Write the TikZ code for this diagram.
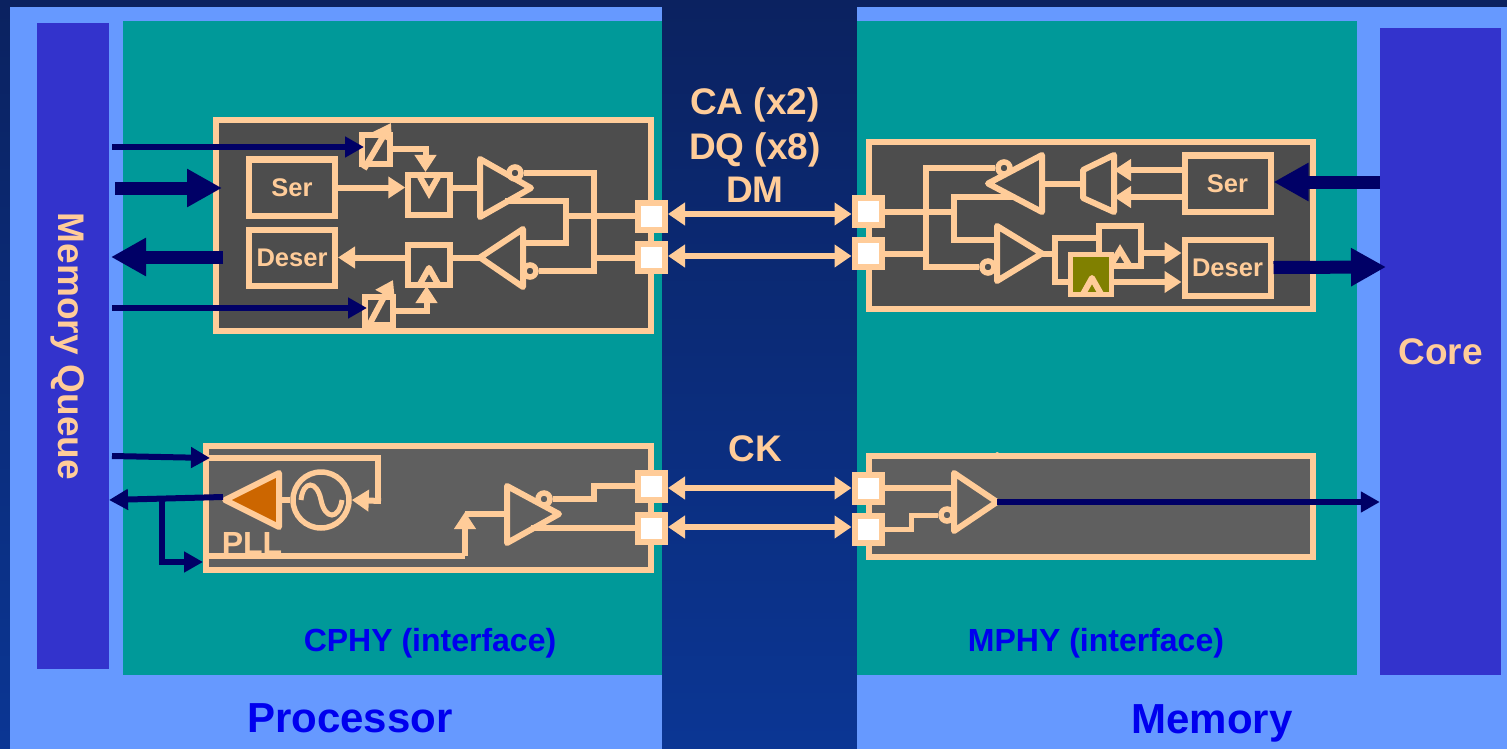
\documentclass[tikz,border=0pt]{standalone}
\usepackage{fontspec}
\setmainfont{Liberation Sans}
\usepackage{tikz}
\usetikzlibrary{arrows.meta}
\definecolor{peach}{HTML}{FFCC99}
\definecolor{skyback}{HTML}{6699FF}
\definecolor{tealback}{HTML}{009999}
\definecolor{purpleblock}{HTML}{3333CC}
\definecolor{navyline}{HTML}{000066}
\definecolor{navytop}{HTML}{0B2260}
\definecolor{navybot}{HTML}{0B3694}
\definecolor{boxdark}{HTML}{4D4D4D}
\definecolor{boxgrey}{HTML}{5F5F5F}
\definecolor{labelblue}{HTML}{0000EE}
\definecolor{flopolive}{HTML}{808000}
\definecolor{pllorange}{HTML}{CC6600}
\tikzset{
  x=1pt, y=-1pt,
  wire/.style={draw=peach, line width=6pt, line join=miter},
  wirearrow/.style={wire, -{Triangle[length=17pt,width=21pt]}},
  wirebi/.style={draw=peach, line width=6.5pt, {Triangle[length=17pt,width=22pt]}-{Triangle[length=17pt,width=22pt]}},
  thinarrow/.style={draw=navyline, line width=6pt, -{Triangle[length=19pt,width=20pt]}},
  thickarrow/.style={draw=navyline, line width=13pt, -{Triangle[length=35pt,width=36pt]}},
  phybox/.style={draw=peach, line width=6pt, inner sep=0pt},
  serbox/.style={draw=peach, line width=6pt, inner sep=0pt, minimum width=86pt, minimum height=56pt, text=peach, font=\bfseries\fontsize{25.5}{28}\selectfont},
  flopbox/.style={draw=peach, line width=5.5pt, inner sep=0pt, minimum width=42pt, minimum height=40pt},
  delaybox/.style={draw=peach, line width=6pt, inner sep=0pt, minimum width=28pt, minimum height=28pt},
  pad/.style={draw=peach, fill=white, line width=6pt, inner sep=0pt, minimum size=27pt},
  bubble/.style={circle, draw=peach, line width=5.5pt, inner sep=0pt, minimum size=12pt},
  block/.style={fill=purpleblock, inner sep=0pt},
  sigtext/.style={text=peach, inner sep=0pt, font=\bfseries\fontsize{37}{40}\selectfont},
  bluetext/.style={text=labelblue, inner sep=0pt, font=\bfseries\fontsize{32}{36}\selectfont},
  sidetext/.style={text=labelblue, inner sep=0pt, font=\bfseries\fontsize{42}{46}\selectfont}
}
\begin{document}
\begin{tikzpicture}
    \useasboundingbox (0,0) rectangle (1507,749);
    % backdrop
    \shade[top color=navytop, bottom color=navybot] (0,0) rectangle (1507,749);
    \fill[skyback] (10,7) rectangle (662,749);
    \fill[skyback] (857,7) rectangle (1507,749);
    \fill[tealback] (123,21) rectangle (662,675);
    \fill[tealback] (857,21) rectangle (1357,675);
    \node[block, minimum width=72pt, minimum height=646pt] (queue) at (73,346) {};
    \node[block, minimum width=121pt, minimum height=647pt, text=peach, font=\bfseries\fontsize{37}{40}\selectfont] (core) at (1440.5,351.5) {Core};
    \node[sigtext, rotate=-90] (queueText) at (68,346.5) {Memory Queue};
    \node[sigtext] (caText) at (755,105) {CA (x2)};
    \node[sigtext] (dqText) at (755,150) {DQ (x8)};
    \node[sigtext] (dmText) at (755,190) {DM};
    \node[sigtext] (ckText) at (755,449) {CK};
    \node[bluetext] (cphyText) at (430,643) {CPHY (interface)};
    \node[bluetext] (mphyText) at (1096,643) {MPHY (interface)};
    \node[sidetext] (procText) at (350,718) {Processor};
    \node[sidetext] (memText) at (1212,723) {Memory};

    % phy boxes
    \node[phybox, fill=boxdark, minimum width=435pt, minimum height=211pt] (boxA) at (433.5,225.5) {};
    \node[phybox, fill=boxdark, minimum width=444pt, minimum height=167pt] (boxB) at (1091,225.5) {};
    \node[phybox, fill=boxgrey, minimum width=445pt, minimum height=124pt] (boxC) at (428.5,508) {};
    \node[phybox, fill=boxgrey, minimum width=444pt, minimum height=101pt] (boxD) at (1091,506.5) {};
    \fill[peach] (994,454) -- (997,452) -- (1001,454) -- cycle;

    % pads and the lines between them
    \node[pad] (padA) at (651.5,216) {};
    \node[pad] (padB) at (651.5,257.5) {};
    \node[pad] (padC) at (868,211.5) {};
    \node[pad] (padD) at (868,253.5) {};
    \node[pad] (padE) at (651.5,486) {};
    \node[pad] (padF) at (651.5,528) {};
    \node[pad] (padG) at (868,488) {};
    \node[pad] (padH) at (868,529.5) {};
    \draw[wirebi] (padA.east |- 0,214) -- (padC.west |- 0,214);
    \draw[wirebi] (padB.east |- 0,256) -- (padD.west |- 0,256);
    \draw[wirebi] (padE.east |- padG) -- (padG.west);
    \draw[wirebi] (padF.east |- 0,527) -- (padH.west |- 0,527);

    % upper left, transmit and receive
    \node[serbox] (serA) at (292,187.5) {Ser};
    \node[serbox] (deserA) at (292,257.5) {Deser};
    \node[flopbox] (flopA) at (429,195) {};
    \node[flopbox] (flopB) at (429,265) {};
    \node[delaybox] (delayA) at (376,149.5) {};
    \node[delaybox] (delayB) at (379,311) {};
    \draw[wirearrow] (364,169) -- (391,123);
    \draw[wirearrow] (367,329) -- (393,280);
    \draw[wire] (420,177) -- (429,193) -- (438,177);
    \draw[wire, line join=round] (420,284) -- (429,268) -- (438,284);
    \coordinate (busA) at (594,257.5);
    \coordinate (busB) at (566,216);
    \coordinate (tapA) at (505,201);
    \coordinate (tapB) at (522,243);
    \draw[wirearrow] (serA.east) -- (flopA.west |- serA);
    \draw[wirearrow] (flopB.west |- deserA) -- (deserA.east);
    \draw[wirearrow] (delayA.east) -| (425.5,172);
    \draw[wirearrow] (delayB.east) -| (426.5,286);
    \draw[wire] (flopA.east |- serA) -- (480,187.5);
    \draw[wire] (flopB.east |- deserA) -- (482,257.5);
    \draw[wire] (tapA) -| (busB) |- (tapB);
    \draw[wire] (busB) -- (padA.west);
    \draw[wire] (busA) -- (padB.west);
    \draw[wire, line join=round] (480,159) -- (531,188) -- (480,217) -- cycle;
    \draw[wire, line join=round] (523,229) -- (480,257.5) -- (523,287) -- cycle;
    \node[bubble, fill=boxdark] (bubA) at (515,173) {};
    \node[bubble, fill=boxdark] (bubB) at (530,271) {};
    \draw[wire] (bubA.east) -| (busA) |- (bubB.east);

    % upper right, receive and transmit
    \node[serbox] (serB) at (1227.5,183.5) {Ser};
    \node[serbox] (deserB) at (1227.5,267.5) {Deser};
    \coordinate (muxA) at (1114,170);
    \coordinate (muxB) at (1114,197);
    \draw[wirearrow] (muxA -| serB.west) -- (muxA);
    \draw[wirearrow] (muxB -| serB.west) -- (muxB);
    \draw[wire, line join=round] (1114,155) -- (1083,170) -- (1083,198) -- (1114,212) -- cycle;
    \draw[wire] (1042,183.5) -- (1083,183.5);
    \coordinate (busC) at (926,253.5);
    \coordinate (busD) at (954,211.5);
    \coordinate (tapC) at (1015,197);
    \coordinate (tapD) at (998,240);
    \draw[wire] (padC.east) -- (busD);
    \draw[wire] (padD.east) -- (busC);
    \draw[wire] (tapC) -| (busD) |- (tapD);
    \draw[wire, line join=round] (1042,155) -- (988,183.5) -- (1042,212) -- cycle;
    \draw[wire, line join=round] (997,226) -- (1042,253.5) -- (997,281) -- cycle;
    \node[bubble, fill=boxdark] (bubC) at (1004,168) {};
    \node[bubble, fill=boxdark] (bubD) at (988,267) {};
    \draw[wire] (bubC.west) -| (busC) |- (bubD.west);
    \node[flopbox] (flopD) at (1120,246) {};
    \draw[wire] (1111,265) -- (1120,250) -- (1129,265);
    \coordinate (lagA) at (1055,238);
    \coordinate (lagB) at (1055,282);
    \draw[wire] (1042,253.5) -- (1055,253.5);
    \draw[wire] (flopD.west |- lagA) -- (lagA) -- (lagB) -- (1070,282);
    \node[flopbox, fill=flopolive, minimum width=41pt] (flopE) at (1091,274.5) {};
    \draw[wire, line join=round] (1083,294) -- (1092,278) -- (1101,294);
    \coordinate (outD) at (1160,253);
    \coordinate (outE) at (1160,282);
    \draw[wirearrow] (flopD.east |- outD) -- (deserB.west |- outD);
    \draw[wirearrow] (flopE.east |- outE) -- (deserB.west |- outE);

    % lower left, PLL
    \node[text=peach, inner sep=0pt, font=\bfseries\fontsize{32}{36}\selectfont] (pllText) at (252,543) {PLL};
    \node[circle, draw=peach, line width=5.5pt, inner sep=0pt, minimum size=56pt] (vco) at (321,500) {};
    \draw[draw=peach, line width=5pt] (301,500) .. controls (303,480) and (317,480) .. (321,500) .. controls (325,520) and (339,520) .. (342,500);
    \draw[wire, fill=pllorange, line join=round] (279,473) -- (225,500) -- (279,527) -- cycle;
    \draw[wire] (279,500) -- (vco.west);
    \coordinate (loopA) at (378,458);
    \draw[wire] (boxC.west |- loopA) -- (loopA) -- (378,501);
    \draw[wirearrow] (381,501) -- (vco.east);
    \coordinate (pllOut) at (465,556);
    \draw[wire] (boxC.west |- pllOut) -- (pllOut);
    \draw[wirearrow] (pllOut) -- (465,512);
    \draw[wire] (465,514) -- (507,514);
    \draw[wire] (531,528) -- (padF.west);
    \draw[wire, line join=round] (507,486) -- (559,514) -- (507,543) -- cycle;
    \node[bubble, fill=boxgrey] (bubE) at (544,499) {};
    \draw[wire] (bubE.east) -- (594,499) -- (594,486) -- (padE.west);

    % lower right
    \coordinate (bufG) at (954,488);
    \draw[wire] (padG.east) -- (bufG);
    \draw[wire, line join=round] (954,473) -- (997,502) -- (954,531) -- cycle;
    \node[bubble, fill=boxgrey] (bubF) at (947,515) {};
    \draw[wire, line width=5pt] (padH.east) -- (911,529.5) -- (911,515) -- (bubF.west);

    % signals from queue and core
    \coordinate (outCk) at (997,502);
    \coordinate (inA) at (112,147);
    \coordinate (inB) at (115,188);
    \coordinate (inC) at (112,308);
    \coordinate (inD) at (112,456);
    \coordinate (outA) at (223,257);
    \coordinate (outB) at (223,497);
    \coordinate (branchA) at (162,499);
    \coordinate (endA) at (111,257);
    \coordinate (endB) at (109,500);
    \coordinate (endC) at (1386,267);
    \draw[thinarrow] (inA) -- (364,147);
    \draw[thinarrow] (inC) -- (367,308);
    \draw[thickarrow] (inB) -- (222,188);
    \draw[thickarrow] (outA) -- (endA);
    \draw[thinarrow] (inD) -- (210,458);
    \draw[thinarrow] (outB) -- (endB);
    \draw[thinarrow] (branchA) |- (boxC.west |- 0,562);
    \draw[thickarrow] (core.west |- 0,182) -- (serB.east |- 0,182);
    \draw[thickarrow] (deserB.east) -- (endC);
    \draw[thinarrow] (outCk) -- (core.west |- outCk);
\end{tikzpicture}
\end{document}
